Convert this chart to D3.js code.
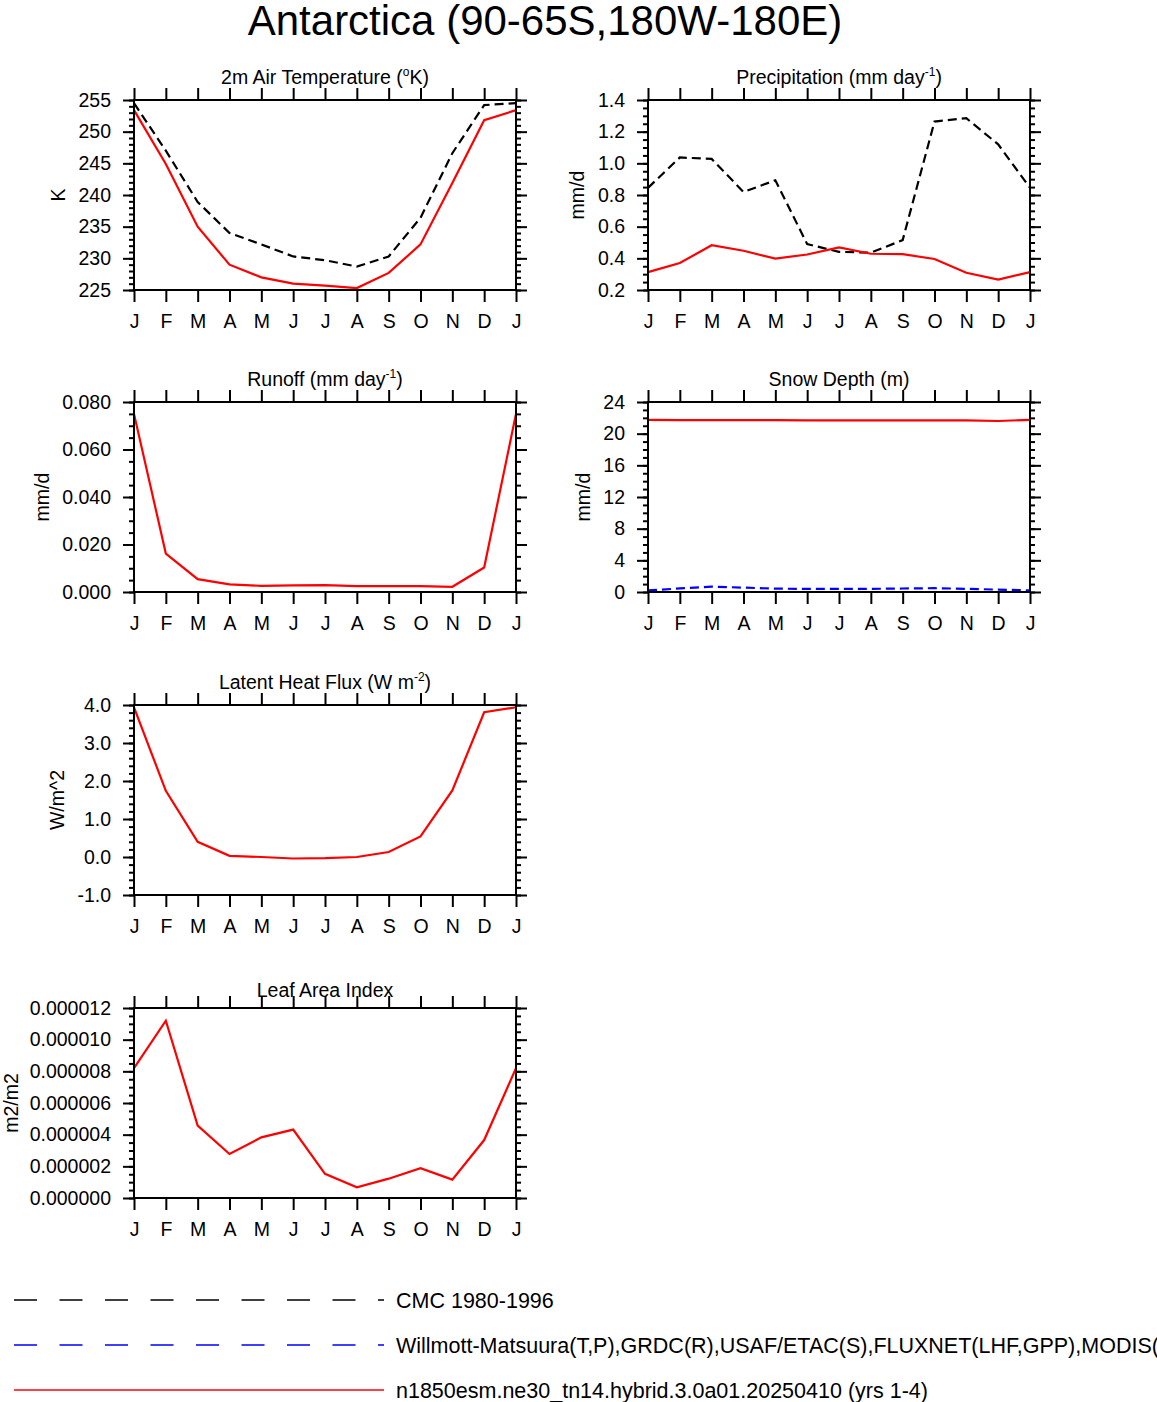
<!DOCTYPE html>
<html>
<head>
<meta charset="utf-8">
<script src="https://cdn.jsdelivr.net/npm/d3@7"></script>
<style>
  body { margin: 0; background: #fff; }
  svg { font-family: "Liberation Sans", Arial, Helvetica, sans-serif; }
</style>
</head>
<body>
<svg id="chart" width="1157" height="1402"></svg>
<script>
// Month labels, Jan repeated at the end
const months = ["J","F","M","A","M","J","J","A","S","O","N","D","J"];

// 2m air temperature (K)
const tsaModel = [253.4, 244.9, 235.0, 229.0, 227.0, 226.0, 225.7, 225.3, 227.7, 232.2, 241.9, 251.8, 253.4];
const tsaObs   = [254.5, 247.0, 238.9, 234.0, 232.2, 230.3, 229.7, 228.7, 230.3, 236.4, 246.6, 254.2, 254.5];

// precipitation (mm/day)
const precModel = [0.313, 0.370, 0.483, 0.448, 0.398, 0.424, 0.469, 0.429, 0.426, 0.396, 0.309, 0.266, 0.313];
const precObs   = [0.845, 1.037, 1.028, 0.819, 0.893, 0.490, 0.441, 0.436, 0.515, 1.264, 1.285, 1.120, 0.845];

// runoff (mm/day)
const runoffModel = [0.0750, 0.0162, 0.0054, 0.0032, 0.0026, 0.0028, 0.0029, 0.0025, 0.0025, 0.0025, 0.0022, 0.0103, 0.0750];

// snow depth (m)
const snowModel = [21.75, 21.72, 21.70, 21.70, 21.70, 21.68, 21.68, 21.68, 21.68, 21.68, 21.67, 21.60, 21.75];
const snowObs   = [0.20, 0.45, 0.68, 0.55, 0.42, 0.40, 0.40, 0.40, 0.44, 0.48, 0.40, 0.30, 0.20];

// latent heat flux (W/m2)
const lhfModel = [3.94, 1.74, 0.40, 0.03, 0.00, -0.04, -0.03, 0.00, 0.13, 0.54, 1.75, 3.81, 3.94];

// leaf area index (m2/m2)
const laiModel = [8.2e-6, 11.2e-6, 4.57e-6, 2.78e-6, 3.83e-6, 4.32e-6, 1.53e-6, 0.68e-6, 1.22e-6, 1.88e-6, 1.16e-6, 3.66e-6, 8.2e-6];

const legendLabels = [
  "CMC 1980-1996",
  "Willmott-Matsuura(T,P),GRDC(R),USAF/ETAC(S),FLUXNET(LHF,GPP),MODIS(LAI)",
  "n1850esm.ne30_tn14.hybrid.3.0a01.20250410 (yrs 1-4)"
];

const RED = "#ff0000", BLACK = "#000000", BLUE = "#0000ff";

const svg = d3.select("#chart");

svg.append("text")
    .attr("x", 545).attr("y", 35)
    .attr("text-anchor", "middle")
    .attr("font-size", 42)
    .text("Antarctica (90-65S,180W-180E)");

const panelW = 382, panelH = 190;

const panels = [
  {left: 134, top: 100, title: ["2m Air Temperature (", ["o"], "K)"], ytitle: "K", ytx: 58,
   domain: [225, 255], major: 5, minor: 1, fmt: "d",
   series: [{v: tsaObs, c: BLACK, dash: true}, {v: tsaModel, c: RED}]},
  {left: 648, top: 100, title: ["Precipitation (mm day", ["-1"], ")"], ytitle: "mm/d", ytx: 577,
   domain: [0.2, 1.4], major: 0.2, minor: 0.05, fmt: ".1f",
   series: [{v: precObs, c: BLACK, dash: true}, {v: precModel, c: RED}]},
  {left: 134, top: 402, title: ["Runoff (mm day", ["-1"], ")"], ytitle: "mm/d", ytx: 42,
   domain: [0, 0.08], major: 0.02, minor: 0.005, fmt: ".3f",
   series: [{v: runoffModel, c: RED}]},
  {left: 648, top: 402, title: ["Snow Depth (m)"], ytitle: "mm/d", ytx: 583,
   domain: [0, 24], major: 4, minor: 1, fmt: "d",
   series: [{v: snowObs, c: BLUE, dash: true}, {v: snowModel, c: RED}]},
  {left: 134, top: 705, title: ["Latent Heat Flux (W m", ["-2"], ")"], ytitle: "W/m^2", ytx: 57,
   domain: [-1, 4], major: 1, minor: 0.2, fmt: ".1f",
   series: [{v: lhfModel, c: RED}]},
  {left: 134, top: 1008, title: ["Leaf Area Index"], ytitle: "m2/m2", ytx: 10.5, titleOffset: 5,
   domain: [0, 0.000012], major: 0.000002, minor: 0.0000005, fmt: ".6f",
   series: [{v: laiModel, c: RED}]}
];

const stepTicks = (lo, hi, step) => {
  const n = Math.round((hi - lo) / step);
  return d3.range(n + 1).map(i => lo + i * step);
};

const drawPanel = p => {
  const g = svg.append("g").attr("transform", `translate(${p.left},${p.top})`);
  const x = d3.scaleLinear().domain([0, 12]).range([0, panelW]);
  const y = d3.scaleLinear().domain(p.domain).range([panelH, 0]);

  const majors = stepTicks(p.domain[0], p.domain[1], p.major);
  const minors = stepTicks(p.domain[0], p.domain[1], p.minor);
  const fmt = d3.format(p.fmt);

  // y axes: minor ticks, then majors with labels
  g.append("g").call(d3.axisLeft(y).tickValues(minors).tickSize(5).tickFormat(""));
  g.append("g").attr("transform", `translate(${panelW},0)`)
      .call(d3.axisRight(y).tickValues(minors).tickSize(5).tickFormat(""));
  g.append("g")
      .call(d3.axisLeft(y).tickValues(majors).tickSize(11).tickPadding(12)
          .tickFormat(d => fmt(d).replace("\u2212", "-")));
  g.append("g").attr("transform", `translate(${panelW},0)`)
      .call(d3.axisRight(y).tickValues(majors).tickSize(11).tickFormat(""));

  // x axes
  g.append("g").attr("transform", `translate(0,${panelH})`)
      .call(d3.axisBottom(x).tickValues(d3.range(13)).tickSize(12).tickPadding(12).tickFormat(i => months[i]));
  g.append("g")
      .call(d3.axisTop(x).tickValues(d3.range(13)).tickSize(12).tickFormat(""));

  g.selectAll(".domain").remove();
  g.selectAll(".tick line").attr("stroke", "#000").attr("stroke-width", 2);
  g.selectAll(".tick text").attr("font-size", 19.5).attr("fill", "#000")
      .attr("font-family", "Liberation Sans, Arial, sans-serif");

  const line = d3.line().x((d, i) => x(i)).y(d => y(d));
  p.series.forEach(s => {
    g.append("path")
        .datum(s.v)
        .attr("fill", "none")
        .attr("stroke", s.c)
        .attr("stroke-width", 2.2)
        .attr("stroke-dasharray", s.dash ? "9,5" : null)
        .attr("d", line);
  });

  g.append("rect")
      .attr("width", panelW).attr("height", panelH)
      .attr("fill", "none").attr("stroke", "#000").attr("stroke-width", 2);

  // panel title, arrays in the list are superscripts
  const t = g.append("text")
      .attr("x", panelW / 2).attr("y", -16 + (p.titleOffset || 0))
      .attr("text-anchor", "middle").attr("font-size", 19.5);
  let raised = false;
  p.title.forEach(part => {
    if (Array.isArray(part)) {
      t.append("tspan").attr("dy", -8).attr("font-size", 12).text(part[0]);
      raised = true;
    } else {
      t.append("tspan").attr("dy", raised ? 8 : null).text(part);
      raised = false;
    }
  });

  svg.append("text")
      .attr("transform", `translate(${p.ytx + 7},${p.top + panelH / 2}) rotate(-90)`)
      .attr("text-anchor", "middle").attr("font-size", 19.5)
      .text(p.ytitle);
};

panels.forEach(drawPanel);

// legend
const legendItems = [
  {c: BLACK, dash: true, y: 1300},
  {c: BLUE, dash: true, y: 1345},
  {c: RED, dash: false, y: 1390}
];
legendItems.forEach((d, i) => {
  svg.append("line")
      .attr("x1", 14).attr("x2", 384)
      .attr("y1", d.y).attr("y2", d.y)
      .attr("stroke", d.c).attr("stroke-width", 1.4)
      .attr("stroke-dasharray", d.dash ? "23,22.5" : null);
  svg.append("text")
      .attr("x", 396).attr("y", d.y + 8)
      .attr("font-size", 21.5)
      .text(legendLabels[i]);
});
</script>
</body>
</html>
